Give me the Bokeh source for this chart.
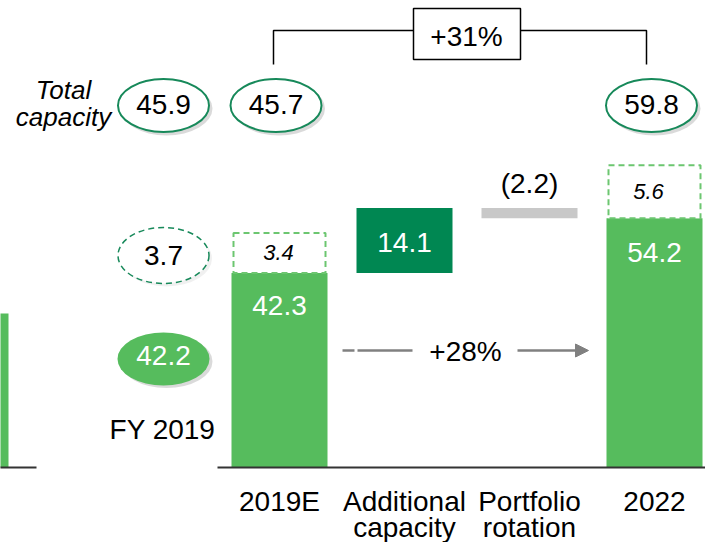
from bokeh.plotting import figure
from bokeh.models import Range1d, Arrow, NormalHead
from bokeh.core.properties import value
from bokeh.embed import file_html
from bokeh.resources import INLINE

# ---------------- data ----------------
cat_line1 = ["2019E", "Additional", "Portfolio", "2022"]
cat_line2 = ["", "capacity", "rotation", ""]
start_value = 42.3          # 2019E operating capacity
step_values = [14.1, -2.2]  # additional capacity, portfolio rotation
extra_values = [3.4, 5.6]   # dashed extra capacity on 2019E and 2022
fy2019_base = 42.2
fy2019_extra = 3.7
left_panel_bar = [33.5]     # partially visible bar from previous panel

# ---------------- layout helpers (picture pixels -> data) ----------------
W, H = 705, 542
PX_X0, X_STEP = 279.0, 125.0
BASE_PY, PY_UNIT = 467.0, 4.6


def xd(px):
    return (px - PX_X0) / X_STEP


def yd(py):
    return (BASE_PY - py) / PY_UNIT


FONT = value("Liberation Sans")
GREEN = "#56BC5D"
DARK = "#008752"
GREY = "#C8C8C8"
OUTLINE = "#17895A"
DASHBOX = "#6CC670"
ARROW = "#808080"
FS = "28px"
TXT = dict(text_font=FONT, text_align="center", text_baseline="middle")

p = figure(width=W, height=H, output_backend="svg", toolbar_location=None,
           x_range=Range1d(xd(0), xd(W)),
           y_range=Range1d(yd(H), yd(0)),
           min_border=0, x_axis_location=None, y_axis_location=None)
p.xgrid.visible = False
p.ygrid.visible = False
p.outline_line_color = None
p.background_fill_color = "white"

# ---------------- waterfall computation ----------------
end_value = start_value + sum(step_values)
bottoms, tops = [0.0], [start_value]
run = start_value
for s in step_values:
    nxt = run + s
    bottoms.append(min(run, nxt))
    tops.append(max(run, nxt))
    run = nxt
bottoms.append(0.0)
tops.append(end_value)
xs = list(range(len(cat_line1)))
colors = [GREEN, DARK, GREY, GREEN]
BAR_W = 96 / X_STEP

p.vbar(x=xs, bottom=bottoms, top=tops, width=BAR_W, fill_color=colors, line_color=None)

# left partial bar from previous panel
p.quad(left=[xd(-30)], right=[xd(8)], bottom=[0], top=left_panel_bar,
       fill_color=GREEN, line_color=None)

# baselines
p.segment(x0=[xd(217), xd(-5)], x1=[xd(720), xd(36)], y0=[0, 0], y1=[0, 0],
          line_color="#333333", line_width=2)

# dashed extra-capacity boxes
ends_idx = [0, len(xs) - 1]
ends_top = [tops[0], tops[-1]]
box_px = [40, 53]
p.quad(left=[i - 46 / X_STEP for i in ends_idx], right=[i + 46 / X_STEP for i in ends_idx],
       bottom=ends_top, top=[t + b / PY_UNIT for t, b in zip(ends_top, box_px)],
       fill_color="white", line_color=DASHBOX, line_dash="6 4", line_width=2)
p.text(x=[xd(278), xd(648)],
       y=[t + (b / 2) / PY_UNIT for t, b in zip(ends_top, box_px)],
       text=[f"{v:.1f}" for v in extra_values], text_font_size="22px",
       text_font_style="italic", text_color="black", **TXT)

# in-bar labels
fmt = lambda v: f"{v:.1f}" if v >= 0 else f"({abs(v):.1f})"
p.text(x=[0, 1, 3],
       y=[tops[0] - 33 / PY_UNIT, (bottoms[1] + tops[1]) / 2 - 2 / PY_UNIT, tops[-1] - 34 / PY_UNIT],
       text=[fmt(start_value), fmt(step_values[0]), fmt(end_value)],
       text_font_size=FS, text_color="white", **TXT)
p.text(x=[2], y=[tops[2] + 25 / PY_UNIT], text=[fmt(step_values[1])],
       text_font_size=FS, text_color="black", **TXT)

# total capacity ellipses
tot_x = [xd(163), xd(275.5), xd(651)]
tot_vals = [fy2019_base + fy2019_extra, start_value + extra_values[0], end_value + extra_values[1]]
ey = yd(105)
p.ellipse(x=[x + 3 / X_STEP for x in tot_x], y=[ey - 3 / PY_UNIT] * 3, width=92, height=54,
          width_units="screen", height_units="screen", fill_color="#BBBBBB",
          fill_alpha=0.55, line_color=None)
p.ellipse(x=tot_x, y=[ey] * 3, width=91, height=53, width_units="screen",
          height_units="screen", fill_color="white", line_color=OUTLINE, line_width=2)
p.text(x=tot_x, y=[yd(103.5)] * 3, text=[f"{v:.1f}" for v in tot_vals],
       text_font_size=FS, text_color="black", **TXT)
p.text(x=[xd(63), xd(63)], y=[yd(89), yd(116)], text=["Total", "capacity"],
       text_font_size="26px", text_font_style="italic", text_color="black", **TXT)

# FY 2019 column
p.ellipse(x=[xd(166)], y=[yd(258)], width=91, height=56, width_units="screen",
          height_units="screen", fill_color="#CCCCCC", fill_alpha=0.3, line_color=None)
p.ellipse(x=[xd(163)], y=[yd(255)], width=91, height=56, width_units="screen",
          height_units="screen", fill_color="white", line_color=OUTLINE, line_width=1.5,
          line_dash="6 4")
p.ellipse(x=[xd(166)], y=[yd(361)], width=92, height=53, width_units="screen",
          height_units="screen", fill_color="#BBBBBB", fill_alpha=0.55, line_color=None)
p.ellipse(x=[xd(163)], y=[yd(358.5)], width=92, height=53, width_units="screen",
          height_units="screen", fill_color=GREEN, line_color=None)
p.text(x=[xd(163)], y=[yd(254.5)], text=[f"{fy2019_extra:.1f}"],
       text_font_size=FS, text_color="black", **TXT)
p.text(x=[xd(163)], y=[yd(354.5)], text=[f"{fy2019_base:.1f}"],
       text_font_size=FS, text_color="white", **TXT)
p.text(x=[xd(162)], y=[yd(428.5)], text=["FY 2019"],
       text_font_size=FS, text_color="black", **TXT)

# +31% bracket
g_total = round((tot_vals[2] / tot_vals[1] - 1) * 100)
g_op = round((end_value / start_value - 1) * 100)
p.line(x=[xd(273), xd(273), xd(413)], y=[yd(64), yd(30), yd(30)], line_color="black", line_width=1.5)
p.line(x=[xd(520), xd(646), xd(646)], y=[yd(30), yd(30), yd(64)], line_color="black", line_width=1.5)
p.quad(left=[xd(413)], right=[xd(520)], top=[yd(8)], bottom=[yd(59)], fill_color="white",
       line_color="black", line_width=1.5)
p.text(x=[xd(466)], y=[yd(35.5)], text=[f"+{g_total}%"],
       text_font_size=FS, text_color="black", **TXT)

# +28% arrow
p.segment(x0=[xd(342), xd(357)], x1=[xd(354), xd(412)], y0=[yd(350)] * 2, y1=[yd(350)] * 2,
          line_color=ARROW, line_width=2.5)
p.add_layout(Arrow(end=NormalHead(size=13, fill_color=ARROW, line_color=ARROW),
                   x_start=xd(517), y_start=yd(350), x_end=xd(588), y_end=yd(350),
                   line_color=ARROW, line_width=2.5))
p.text(x=[xd(465)], y=[yd(350.5)], text=[f"+{g_op}%"],
       text_font_size=FS, text_color="black", **TXT)

# category labels
p.text(x=xs, y=[yd(501)] * len(xs), text=cat_line1,
       text_font_size=FS, text_color="black", **TXT)
p.text(x=xs, y=[yd(527)] * len(xs), text=cat_line2,
       text_font_size=FS, text_color="black", **TXT)

open("out.html", "w").write(file_html(p, INLINE))
